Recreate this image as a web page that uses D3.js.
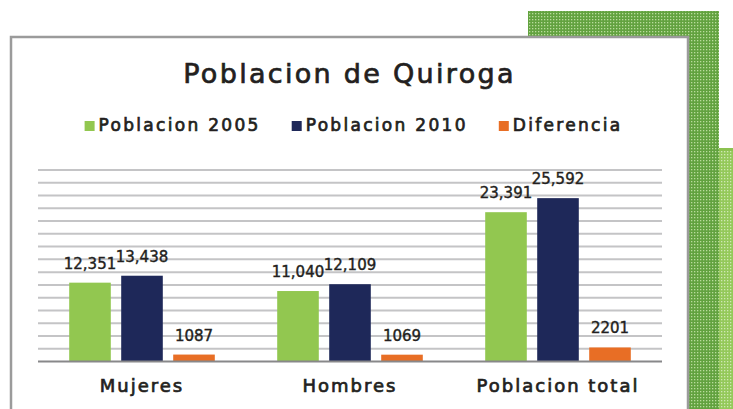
<!DOCTYPE html>
<html>
<head>
<meta charset="utf-8">
<script src="https://cdn.jsdelivr.net/npm/d3@7"></script>
<style>
  html, body { margin: 0; padding: 0; background: #fff; }
  svg { display: block; font-family: "DejaVu Sans", sans-serif; }
  text.heavy { stroke: #231f20; stroke-width: 0.7px; }
  text.label { stroke: #231f20; stroke-width: 0.4px; }
</style>
</head>
<body>
<div id="chart"></div>
<script>
'use strict';

// Chart data
var CATEGORIES = ['Mujeres', 'Hombres', 'Poblacion total'];
var SERIES = ['Poblacion 2005', 'Poblacion 2010', 'Diferencia'];
var POB_2005 = [12351, 11040, 23391];
var POB_2010 = [13438, 12109, 25592];
var DIFERENCIA = [1087, 1069, 2201];
var SERIES_COLOR = ['#92c750', '#1e2859', '#e86e25'];
var TITLE = 'Poblacion de Quiroga';

var W = 733, H = 409;
var values = [POB_2005, POB_2010, DIFERENCIA];
var formats = [d3.format(','), d3.format(','), d3.format('d')];

var svg = d3.select('#chart').append('svg')
  .attr('width', W)
  .attr('height', H);

// dotted green background pattern
var defs = svg.append('defs');
addDots(defs, 'dotsDark', '#62a23f', '#b9dc9c');
addDots(defs, 'dotsLight', '#94c95a', '#cfe8b4');

function addDots(defs, id, bg, dot) {
  var p = defs.append('pattern')
    .attr('id', id)
    .attr('patternUnits', 'userSpaceOnUse')
    .attr('width', 3)
    .attr('height', 3);
  p.append('rect').attr('width', 3).attr('height', 3).attr('fill', bg);
  p.append('rect').attr('x', 1).attr('y', 1).attr('width', 1.3).attr('height', 1.3).attr('fill', dot);
}

svg.append('rect')
  .attr('x', 528).attr('y', 11)
  .attr('width', 191).attr('height', H)
  .attr('fill', 'url(#dotsDark)');
svg.append('rect')
  .attr('x', 719).attr('y', 148)
  .attr('width', 20).attr('height', H)
  .attr('fill', 'url(#dotsLight)');
svg.append('rect')
  .attr('x', 719).attr('y', 148)
  .attr('width', 20).attr('height', 3)
  .attr('fill', '#8cc250');

// chart box
svg.append('rect')
  .attr('x', 11).attr('y', 37)
  .attr('width', 677).attr('height', H)
  .attr('fill', '#fff')
  .attr('stroke', '#9b9b9b')
  .attr('stroke-width', 2.5);

var boxCenter = 11 + 677 / 2;

svg.append('text')
  .attr('class', 'heavy')
  .attr('x', boxCenter)
  .attr('y', 83)
  .attr('text-anchor', 'middle')
  .attr('font-size', 27)
  .attr('letter-spacing', 2.3)
  .attr('fill', '#231f20')
  .text(TITLE);

// Legend
var legend = svg.append('g');
var lx = 0;
SERIES.forEach(function(name, i) {
  var item = legend.append('g').attr('transform', 'translate(' + lx + ',0)');
  item.append('rect')
    .attr('x', 0).attr('y', 121)
    .attr('width', 10).attr('height', 10)
    .attr('fill', SERIES_COLOR[i]);
  var t = item.append('text')
    .attr('class', 'heavy')
    .attr('x', 14).attr('y', 131)
    .attr('font-size', 17)
    .attr('letter-spacing', 2.3)
    .attr('fill', '#231f20')
    .text(name);
  lx += 14 + t.node().getComputedTextLength() + 31;
});
var legendWidth = lx - 31;
legend.attr('transform', 'translate(' + (boxCenter + 4 - legendWidth / 2) + ',0)');

// Scales
var plot = { left: 38, right: 662, top: 170, bottom: 361.5 };

var x0 = d3.scaleBand()
  .domain(CATEGORIES)
  .range([plot.left, plot.right]);

var x1 = d3.scaleBand()
  .domain(d3.range(SERIES.length))
  .range([0, x0.bandwidth()])
  .paddingInner(0.2)
  .paddingOuter(0.6);

var y = d3.scaleLinear()
  .domain([0, 30000])
  .range([plot.bottom, plot.top]);

// gridlines
svg.append('g')
  .selectAll('line')
  .data(y.ticks(15).filter(function(d) { return d > 0; }))
  .enter()
  .append('line')
  .attr('x1', plot.left)
  .attr('x2', plot.right)
  .attr('y1', function(d) { return y(d); })
  .attr('y2', function(d) { return y(d); })
  .attr('stroke', '#c4c4c6')
  .attr('stroke-width', 2);

// bars
var groups = svg.append('g')
  .selectAll('g')
  .data(CATEGORIES)
  .enter()
  .append('g')
  .attr('transform', function(d) { return 'translate(' + x0(d) + ',0)'; });

groups.each(function(cat, ci) {
  var g = d3.select(this);
  var rows = SERIES.map(function(s, si) { return { si: si, v: values[si][ci] }; });

  g.selectAll('rect')
    .data(rows)
    .enter()
    .append('rect')
    .attr('x', function(d) { return x1(d.si); })
    .attr('width', x1.bandwidth())
    .attr('y', function(d) { return y(d.v); })
    .attr('height', function(d) { return y(0) - y(d.v); })
    .attr('fill', function(d) { return SERIES_COLOR[d.si]; });

  g.selectAll('text')
    .data(rows)
    .enter()
    .append('text')
    .attr('class', 'label')
    .attr('x', function(d) { return x1(d.si) + x1.bandwidth() / 2; })
    .attr('y', function(d) { return y(d.v) - 14; })
    .attr('text-anchor', 'middle')
    .attr('font-size', 15)
    .attr('fill', '#231f20')
    .text(function(d) { return formats[d.si](d.v); });
});

// baseline
svg.append('line')
  .attr('x1', plot.left)
  .attr('x2', plot.right)
  .attr('y1', y(0))
  .attr('y2', y(0))
  .attr('stroke', '#88888a')
  .attr('stroke-width', 2);

// category labels
var xAxis = d3.axisBottom(x0).tickSize(0).tickPadding(0);
var axisG = svg.append('g')
  .attr('transform', 'translate(0,' + (y(0) + 30) + ')')
  .call(xAxis);
axisG.select('.domain').remove();
axisG.selectAll('text')
  .attr('class', 'heavy')
  .attr('dy', 0)
  .attr('font-family', '"DejaVu Sans", sans-serif')
  .attr('font-size', 18)
  .attr('letter-spacing', 2)
  .attr('fill', '#231f20');
</script>
</body>
</html>
